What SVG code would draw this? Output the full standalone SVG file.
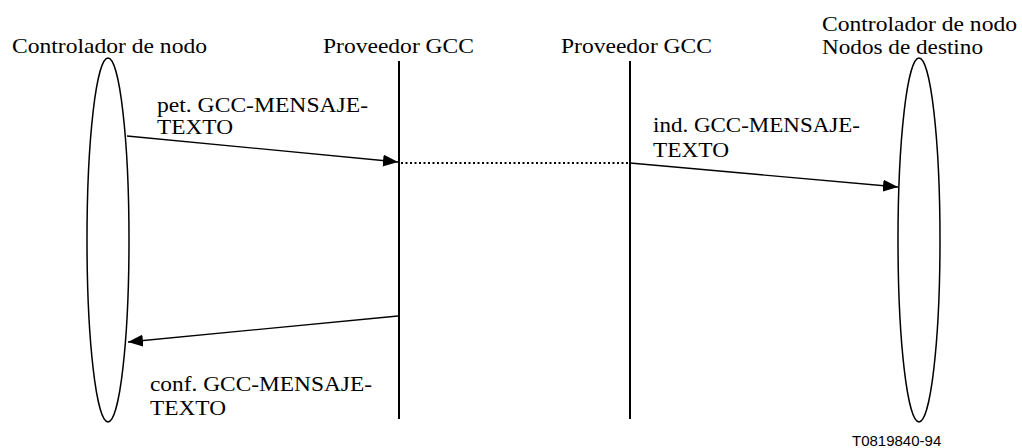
<svg xmlns="http://www.w3.org/2000/svg" width="1022" height="448" viewBox="0 0 1022 448">
<style>
text{fill:#000}
.s{font-family:'Liberation Serif','Times New Roman',Times,'DejaVu Serif','Noto Serif',serif;font-size:22px}
.ell{fill:none;stroke:#000;stroke-width:1.5}
.life{stroke:#000;stroke-width:2}
.msg{stroke:#000;stroke-width:1.3;fill:none;marker-end:url(#ah)}
.dot{stroke:#000;stroke-width:2;stroke-dasharray:2 2.5;fill:none}
</style>
<defs>
<marker id="ah" viewBox="0 0 15 12" refX="15" refY="6" markerWidth="15" markerHeight="12" markerUnits="userSpaceOnUse" orient="auto">
<path d="M0,0 L15,6 L0,12 Z" fill="#000"/>
</marker>
</defs>
<rect width="1022" height="448" fill="#fff"/>
<g id="node-left">
<ellipse class="ell" cx="108" cy="240" rx="21" ry="182"/>
<text class="s" x="12" y="53" textLength="195" lengthAdjust="spacingAndGlyphs">Controlador de nodo</text>
</g>
<g id="node-gcc1">
<line class="life" x1="399" y1="61" x2="399" y2="419"/>
<text class="s" x="323" y="53" textLength="151" lengthAdjust="spacingAndGlyphs">Proveedor GCC</text>
</g>
<g id="node-gcc2">
<line class="life" x1="630" y1="61" x2="630" y2="419"/>
<text class="s" x="561" y="53" textLength="151" lengthAdjust="spacingAndGlyphs">Proveedor GCC</text>
</g>
<g id="node-right">
<ellipse class="ell" cx="919" cy="240" rx="21" ry="182"/>
<text class="s" x="822" y="31" textLength="195" lengthAdjust="spacingAndGlyphs">Controlador de nodo</text>
<text class="s" x="822" y="54" textLength="161" lengthAdjust="spacingAndGlyphs">Nodos de destino</text>
</g>
<g id="connectors">
<line class="msg" x1="127" y1="136" x2="398" y2="162"/>
<line class="dot" x1="401" y1="163" x2="630" y2="163"/>
<line class="msg" x1="630" y1="163" x2="898" y2="187"/>
<line class="msg" x1="398" y1="316" x2="128" y2="342"/>
<text class="s" x="157" y="112" textLength="211" lengthAdjust="spacingAndGlyphs">pet. GCC-MENSAJE-</text>
<text class="s" x="157" y="134" textLength="76" lengthAdjust="spacingAndGlyphs">TEXTO</text>
<text class="s" x="653" y="132" textLength="207" lengthAdjust="spacingAndGlyphs">ind. GCC-MENSAJE-</text>
<text class="s" x="653" y="157" textLength="76" lengthAdjust="spacingAndGlyphs">TEXTO</text>
<text class="s" x="150" y="391" textLength="222" lengthAdjust="spacingAndGlyphs">conf. GCC-MENSAJE-</text>
<text class="s" x="150" y="415" textLength="76" lengthAdjust="spacingAndGlyphs">TEXTO</text>
</g>
<text font-family="'Liberation Sans',Arial,sans-serif" font-size="15" x="852" y="446">T0819840-94</text>
</svg>
